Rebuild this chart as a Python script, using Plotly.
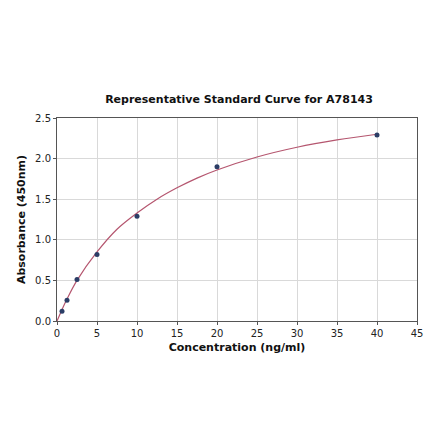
import plotly.graph_objects as go

# standards
conc = [0.625, 1.25, 2.5, 5, 10, 20, 40]
absorb = [0.12, 0.255, 0.51, 0.82, 1.29, 1.90, 2.29]

# fitted curve, sampled by eye
curve_x = [0, 0.625, 1.25, 2.5, 5, 7.5, 10, 12.5, 15, 17.5, 20, 25, 30, 35, 40]
curve_y = [0, 0.14, 0.27, 0.50, 0.85, 1.13, 1.33, 1.50, 1.64, 1.76, 1.86, 2.02, 2.14, 2.23, 2.30]

x_ticks = [0, 5, 10, 15, 20, 25, 30, 35, 40, 45]
y_ticks = [0.0, 0.5, 1.0, 1.5, 2.0, 2.5]

fig = go.Figure()
fig.add_trace(go.Scatter(x=curve_x, y=curve_y, mode="lines",
                         line=dict(color="#b5566f", width=1.2, shape="spline"),
                         hoverinfo="skip"))
fig.add_trace(go.Scatter(x=conc, y=absorb, mode="markers",
                         marker=dict(color="#2b3d66", size=5)))

axis_style = dict(showline=True, linecolor="#555555", linewidth=1, mirror=True,
                  showgrid=True, gridcolor="#d9d9d9", gridwidth=1,
                  ticks="outside", ticklen=3, tickcolor="#555555",
                  zeroline=False, tickfont=dict(size=10, color="#222222"))

fig.update_xaxes(range=[0, 45], tickvals=x_ticks, ticktext=[str(t) for t in x_ticks],
                 title=dict(text="<b>Concentration (ng/ml)</b>", font=dict(size=11, color="#111111"), standoff=5),
                 **axis_style)
fig.update_yaxes(range=[0, 2.5], tickvals=y_ticks, ticktext=["%.1f" % t for t in y_ticks],
                 title=dict(text="<b>Absorbance (450nm)</b>", font=dict(size=11, color="#111111"), standoff=7),
                 **axis_style)

# page body adds 8px on left/top, so margins are trimmed to suit
fig.update_layout(
    width=440, height=441,
    margin=dict(l=47, r=31, t=110, b=128),
    paper_bgcolor="white", plot_bgcolor="white",
    font=dict(family="DejaVu Sans"),
    showlegend=False,
    title=dict(text="<b>Representative Standard Curve for A78143</b>",
               x=0.525, xanchor="center", y=0.794, yanchor="middle",
               font=dict(size=11, color="#111111")),
)

fig.write_html("out.html")
